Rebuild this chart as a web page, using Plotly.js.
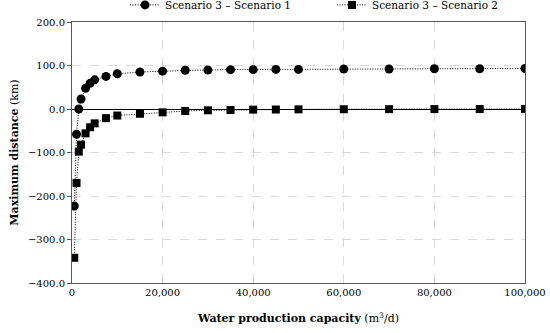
<!DOCTYPE html>
<html><head><meta charset="utf-8">
<script src="https://cdn.plot.ly/plotly-3.0.1.min.js"></script>
<style>html,body{margin:0;padding:0;background:#fff}#chart{width:550px;height:333px}</style>
</head><body><div id="chart"></div>
<script>
const capacity = [500, 1000, 1500, 2000, 3000, 4000, 5000, 7500, 10000, 15000, 20000, 25000, 30000, 35000, 40000, 45000, 50000, 60000, 70000, 80000, 90000, 100000];
const s3MinusS1 = [-223, -58, 0, 23, 47.5, 59, 67, 75, 81, 85, 87, 89, 89.7, 90.5, 90.5, 91, 91, 92, 92, 92.5, 92.5, 93];
const s3MinusS2 = [-342, -170, -98, -82, -56, -42, -33, -21, -15, -11, -7.7, -4.6, -3, -2.3, -1.5, -1.2, -0.8, -0.5, -0.3, -0.2, -0.1, 0];
const seriesNames = ["Scenario 3 \u2013 Scenario 1", "Scenario 3 \u2013 Scenario 2"];
const xTicks = [0, 20000, 40000, 60000, 80000, 100000];
const yTicks = [-400, -300, -200, -100, 0, 100, 200];

const font = "DejaVu Serif";
const traces = [
  {x: capacity, y: s3MinusS1, name: seriesNames[0], mode: "lines+markers", type: "scatter", legend: "legend",
   line: {color: "#000", width: 1, dash: "1px,1.5px"}, marker: {symbol: "circle", size: 9, color: "#000"}},
  {x: capacity, y: s3MinusS2, name: seriesNames[1], mode: "lines+markers", type: "scatter", legend: "legend2",
   line: {color: "#000", width: 1, dash: "1px,1.5px"}, marker: {symbol: "square", size: 8, color: "#000"}}
];
const legendBase = {orientation: "h", xanchor: "left", y: 1.01, yref: "paper", yanchor: "bottom",
  font: {family: font, size: 10.5, color: "#000"}, itemwidth: 30, bgcolor: "rgba(0,0,0,0)"};
const layout = {
  width: 550, height: 333,
  margin: {l: 72, r: 25, t: 22, b: 50, autoexpand: false},
  paper_bgcolor: "#fff", plot_bgcolor: "#fff",
  font: {family: font, color: "#404040", size: 10},
  showlegend: true,
  legend: Object.assign({}, legendBase, {x: 0.117}),
  legend2: Object.assign({}, legendBase, {x: 0.574}),
  xaxis: {
    range: [0, 100000], tickvals: xTicks, tickformat: ",d",
    showgrid: true, gridcolor: "#d9d9d9", griddash: "dash", gridwidth: 1,
    zeroline: false, showline: true, linecolor: "#595959", linewidth: 1, mirror: true,
    ticks: "", tickfont: {family: font, size: 10, color: "#000"},
    title: {text: "<b>Water production capacity</b> (m<sup>3</sup>/d)", font: {family: font, size: 11, color: "#000"}, standoff: 17}
  },
  yaxis: {
    range: [-400, 200], tickvals: yTicks, tickformat: ".1f",
    showgrid: true, gridcolor: "#d9d9d9", griddash: "dash", gridwidth: 1,
    zeroline: true, zerolinecolor: "#000", zerolinewidth: 1,
    showline: true, linecolor: "#595959", linewidth: 1, mirror: true,
    ticks: "outside", ticklen: 4, tickcolor: "#595959",
    tickfont: {family: font, size: 10, color: "#000"},
    title: {text: "<b>Maximum distance</b> (km)", font: {family: font, size: 11, color: "#000"}, standoff: 7}
  }
};
Plotly.newPlot("chart", traces, layout, {staticPlot: true, displayModeBar: false});
</script></body></html>
